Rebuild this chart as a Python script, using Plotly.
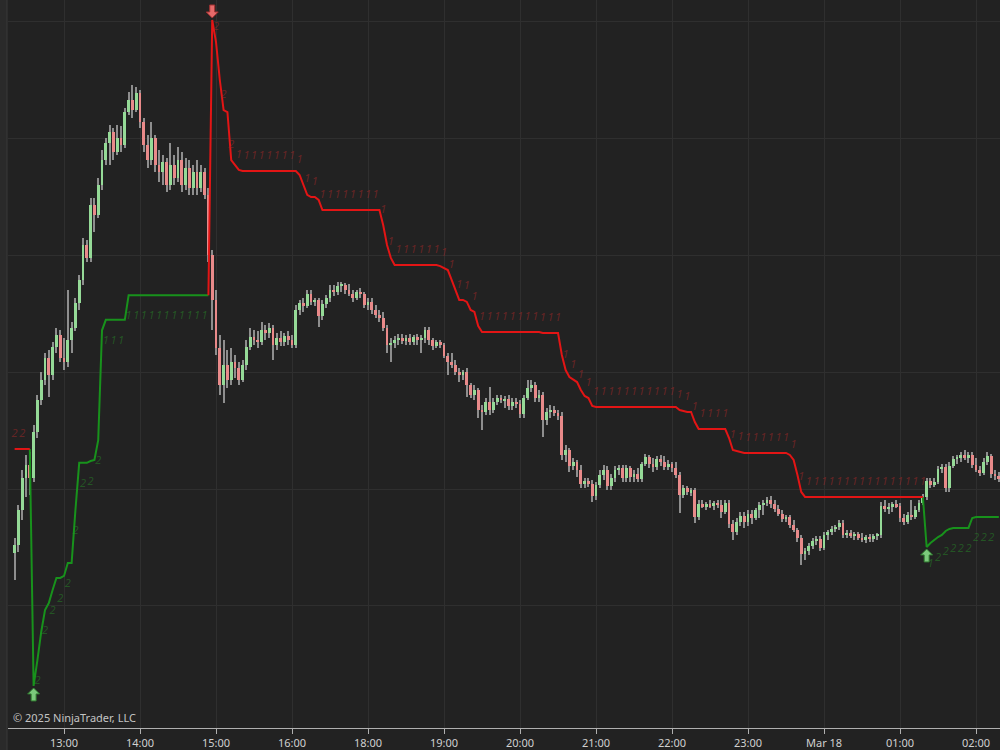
import plotly.graph_objects as go

# ---------------- data (3-minute bars, index 0 = 13:00, 17:00-18:00 session break removed) ----------------
bar_index = list(range(-13, 247))

opens = [
    5684.55, 5685.2, 5688.2, 5690.95, 5692.1, 5690.95, 5694.9, 5697.6, 5699.35, 5701.2,
    5699.8, 5702.2, 5703.2, 5701.2, 5700.9, 5702.8, 5703.8, 5705.9, 5707.9, 5710.9,
    5709.8, 5714.3, 5713.5, 5716.0, 5718.2, 5719.6, 5720.6, 5718.9, 5720.1, 5719.5,
    5722.3, 5723.3, 5722.5, 5723.9, 5721.4, 5719.5, 5718.2, 5720.1, 5717.75, 5717.15,
    5718.0, 5716.0, 5717.75, 5716.6, 5718.2, 5716.0, 5717.5, 5715.8, 5717.15, 5715.8,
    5717.15, 5715.2, 5710.05, 5706.2, 5702.1, 5698.9, 5700.6, 5699.35, 5700.9, 5700.4,
    5699.35, 5700.6, 5702.2, 5703.0, 5702.8, 5702.6, 5703.6, 5703.4, 5703.8, 5702.3,
    5702.9, 5702.6, 5703.1, 5702.8, 5702.3, 5705.3, 5705.9, 5705.7, 5706.7, 5706.0,
    5706.2, 5704.8, 5705.85, 5706.4, 5707.05, 5706.9, 5707.4, 5707.5, 5707.05, 5706.7,
    5706.4, 5706.9, 5706.7, 5705.8, 5706.0, 5705.3, 5704.9, 5704.65, 5703.8, 5702.3,
    5702.5, 5702.8, 5702.9, 5702.7, 5702.9, 5702.6, 5703.0, 5702.8, 5702.9, 5703.6,
    5702.8, 5702.25, 5702.6, 5702.3, 5701.4, 5700.9, 5700.6, 5700.0, 5699.8, 5700.0,
    5698.9, 5698.1, 5698.5, 5696.8, 5696.6, 5697.5, 5696.8, 5697.5, 5697.8, 5697.6,
    5697.7, 5697.1, 5697.5, 5697.3, 5696.4, 5697.8, 5698.7, 5698.9, 5697.8, 5698.1,
    5695.9, 5696.6, 5696.8, 5696.5, 5696.3, 5692.9, 5693.35, 5692.0, 5692.3, 5691.65,
    5690.45, 5690.7, 5690.45, 5689.4, 5690.35, 5691.2, 5691.65, 5690.3, 5690.95, 5691.65,
    5691.8, 5690.95, 5691.8, 5691.05, 5691.3, 5690.9, 5692.15, 5692.75, 5692.15, 5691.9,
    5692.6, 5692.3, 5691.9, 5692.15, 5691.8, 5691.2, 5689.5, 5690.1, 5689.75, 5689.9,
    5687.6, 5688.7, 5688.55, 5688.7, 5688.55, 5688.8, 5688.65, 5688.05, 5688.8, 5687.0,
    5686.3, 5687.2, 5687.7, 5687.2, 5687.9, 5687.55, 5688.2, 5688.65, 5688.8, 5689.1,
    5688.7, 5688.3, 5687.9, 5687.45, 5687.6, 5686.9, 5686.5, 5685.8, 5684.45, 5684.7,
    5685.15, 5685.55, 5685.75, 5684.95, 5686.1, 5686.3, 5686.6, 5686.75, 5687.1, 5686.1,
    5686.25, 5686.0, 5686.15, 5685.8, 5685.65, 5685.9, 5685.75, 5686.0, 5686.1, 5688.55,
    5688.3, 5688.5, 5688.7, 5688.55, 5687.55, 5687.2, 5687.8, 5687.6, 5688.2, 5688.8,
    5689.35, 5690.7, 5690.35, 5690.6, 5691.7, 5691.9, 5690.1, 5692.0, 5692.6, 5692.75,
    5692.9, 5692.75, 5692.9, 5692.1, 5691.65, 5691.4, 5692.3, 5692.85, 5691.3, 5691.1,
]

highs = [
    5685.8, 5688.65, 5691.65, 5692.9, 5693.2, 5695.5, 5698.1, 5700.0, 5701.7, 5701.9,
    5702.6, 5703.8, 5703.6, 5702.9, 5707.05, 5704.3, 5706.4, 5708.3, 5711.5, 5711.3,
    5714.9, 5714.9, 5716.6, 5719.0, 5720.1, 5721.2, 5720.9, 5721.2, 5721.1, 5722.6,
    5724.0, 5724.6, 5724.4, 5724.2, 5721.8, 5720.3, 5721.4, 5720.3, 5719.0, 5718.6,
    5718.35, 5719.6, 5718.6, 5719.3, 5718.9, 5718.35, 5718.2, 5717.75, 5718.2, 5717.75,
    5717.5, 5715.8, 5710.5, 5707.05, 5703.2, 5702.8, 5701.9, 5702.1, 5701.5, 5700.9,
    5701.1, 5702.8, 5703.8, 5703.6, 5703.5, 5704.3, 5704.05, 5704.2, 5704.05, 5703.4,
    5703.5, 5703.4, 5703.5, 5703.2, 5705.8, 5706.2, 5706.4, 5707.05, 5707.05, 5706.4,
    5706.4, 5706.2, 5706.6, 5707.5, 5707.5, 5707.7, 5707.7, 5707.65, 5707.6, 5707.05,
    5707.05, 5707.2, 5706.9, 5706.4, 5706.4, 5705.8, 5705.3, 5705.2, 5704.05, 5702.9,
    5703.1, 5703.3, 5703.3, 5703.2, 5703.3, 5703.2, 5703.3, 5703.2, 5703.9, 5703.9,
    5702.9, 5702.8, 5702.8, 5702.5, 5701.7, 5701.7, 5701.1, 5700.4, 5700.2, 5700.4,
    5699.1, 5698.9, 5698.7, 5697.2, 5697.8, 5698.75, 5697.8, 5698.1, 5698.1, 5698.0,
    5698.1, 5697.8, 5697.8, 5697.6, 5698.1, 5699.35, 5699.35, 5699.2, 5698.5, 5698.3,
    5696.95, 5697.2, 5697.1, 5696.8, 5696.6, 5693.8, 5693.5, 5692.7, 5692.5, 5692.1,
    5690.95, 5690.95, 5690.8, 5690.6, 5691.65, 5692.1, 5692.0, 5691.3, 5692.0, 5692.1,
    5692.1, 5692.1, 5692.0, 5691.65, 5691.8, 5692.3, 5693.0, 5692.9, 5692.7, 5692.85,
    5692.9, 5692.85, 5692.5, 5692.3, 5692.3, 5691.5, 5690.35, 5690.3, 5690.1, 5690.1,
    5689.1, 5689.1, 5688.9, 5689.1, 5689.0, 5689.1, 5689.1, 5689.1, 5689.1, 5687.35,
    5687.55, 5688.05, 5688.05, 5688.2, 5688.2, 5688.4, 5688.9, 5689.1, 5689.35, 5689.4,
    5689.1, 5688.65, 5688.2, 5687.8, 5687.8, 5687.35, 5686.7, 5686.1, 5684.95, 5685.4,
    5685.8, 5686.0, 5686.0, 5686.3, 5686.5, 5686.85, 5686.9, 5687.35, 5687.35, 5686.5,
    5686.5, 5686.3, 5686.3, 5686.25, 5686.1, 5686.15, 5686.15, 5686.25, 5688.9, 5689.1,
    5688.8, 5688.9, 5689.1, 5688.8, 5687.9, 5688.05, 5689.1, 5688.55, 5689.1, 5689.6,
    5690.95, 5690.95, 5690.95, 5692.0, 5692.15, 5692.15, 5692.3, 5692.85, 5692.9, 5693.2,
    5693.35, 5693.2, 5693.2, 5692.7, 5692.0, 5692.7, 5693.2, 5693.0, 5691.65, 5691.5,
]

lows = [
    5682.2, 5684.6, 5687.35, 5689.35, 5689.5, 5690.6, 5694.4, 5697.2, 5698.9, 5697.9,
    5699.35, 5701.7, 5700.9, 5700.2, 5700.5, 5701.7, 5703.5, 5705.3, 5707.5, 5709.45,
    5709.45, 5712.0, 5713.2, 5715.6, 5717.75, 5717.75, 5718.2, 5718.6, 5718.9, 5719.2,
    5722.0, 5721.8, 5722.3, 5720.9, 5718.9, 5717.5, 5717.75, 5717.15, 5716.3, 5716.0,
    5715.4, 5715.6, 5716.0, 5716.3, 5715.4, 5715.6, 5715.2, 5715.2, 5715.2, 5715.4,
    5714.8, 5709.45, 5703.6, 5701.5, 5698.1, 5697.4, 5698.7, 5698.9, 5699.5, 5698.9,
    5699.2, 5700.2, 5701.9, 5702.3, 5702.1, 5702.3, 5702.8, 5702.9, 5701.1, 5701.9,
    5702.25, 5702.25, 5702.3, 5702.1, 5702.1, 5704.9, 5705.2, 5705.5, 5705.8, 5705.7,
    5703.9, 5704.5, 5705.5, 5706.0, 5706.5, 5706.6, 5706.9, 5706.7, 5706.5, 5706.0,
    5706.2, 5706.4, 5705.5, 5705.3, 5705.0, 5704.65, 5704.3, 5703.5, 5701.7, 5700.9,
    5702.1, 5702.3, 5702.4, 5702.3, 5702.3, 5702.3, 5702.3, 5701.7, 5702.5, 5702.3,
    5701.9, 5702.1, 5702.1, 5701.2, 5699.8, 5700.4, 5699.8, 5699.2, 5699.35, 5697.9,
    5697.8, 5697.6, 5696.1, 5695.1, 5696.35, 5696.35, 5696.5, 5697.2, 5697.4, 5696.95,
    5696.8, 5696.8, 5696.95, 5696.1, 5696.1, 5697.6, 5698.3, 5697.5, 5697.5, 5694.5,
    5695.5, 5696.1, 5696.3, 5695.9, 5692.5, 5692.3, 5691.5, 5691.65, 5691.05, 5690.1,
    5690.1, 5690.2, 5688.9, 5689.1, 5690.1, 5690.8, 5689.9, 5689.9, 5690.6, 5691.2,
    5690.6, 5690.6, 5690.6, 5690.6, 5690.6, 5690.6, 5692.0, 5691.8, 5691.5, 5691.65,
    5692.0, 5691.65, 5691.65, 5691.5, 5690.95, 5687.95, 5689.25, 5689.5, 5689.4, 5687.1,
    5687.35, 5688.4, 5688.2, 5688.4, 5688.2, 5688.4, 5687.55, 5687.9, 5686.7, 5685.65,
    5686.1, 5686.85, 5686.7, 5686.85, 5687.0, 5687.35, 5687.55, 5687.8, 5688.55, 5688.4,
    5688.05, 5687.7, 5687.2, 5687.2, 5686.7, 5686.3, 5685.5, 5683.5, 5683.9, 5684.35,
    5684.9, 5685.2, 5684.7, 5684.8, 5685.65, 5686.1, 5686.3, 5686.5, 5685.8, 5685.8,
    5685.8, 5685.65, 5685.65, 5685.5, 5685.4, 5685.5, 5685.5, 5685.65, 5685.8, 5688.05,
    5687.9, 5688.05, 5688.4, 5687.2, 5686.9, 5687.0, 5687.35, 5687.45, 5688.05, 5688.65,
    5689.1, 5690.1, 5690.2, 5690.45, 5691.4, 5689.75, 5689.75, 5691.8, 5692.15, 5692.3,
    5692.5, 5692.25, 5691.8, 5691.5, 5691.1, 5691.2, 5692.1, 5690.95, 5690.8, 5690.6,
]

closes = [
    5685.2, 5688.2, 5690.95, 5692.1, 5690.95, 5694.9, 5697.6, 5699.35, 5701.2, 5699.8,
    5702.2, 5703.2, 5701.2, 5700.9, 5702.8, 5703.8, 5705.9, 5707.9, 5710.9, 5709.8,
    5714.3, 5713.5, 5716.0, 5718.2, 5719.6, 5720.6, 5718.9, 5720.1, 5719.5, 5722.3,
    5723.3, 5722.5, 5723.9, 5721.4, 5719.5, 5718.2, 5720.1, 5717.75, 5717.15, 5718.0,
    5716.0, 5717.75, 5716.6, 5718.2, 5716.0, 5717.5, 5715.8, 5717.15, 5715.8, 5717.15,
    5715.2, 5710.05, 5706.2, 5702.1, 5698.9, 5700.6, 5699.35, 5700.9, 5700.4, 5699.35,
    5700.6, 5702.2, 5703.0, 5702.8, 5702.6, 5703.6, 5703.4, 5703.8, 5702.3, 5702.9,
    5702.6, 5703.1, 5702.8, 5702.3, 5705.3, 5705.9, 5705.7, 5706.7, 5706.0, 5706.2,
    5704.8, 5705.85, 5706.4, 5707.05, 5706.9, 5707.4, 5707.5, 5707.05, 5706.7, 5706.4,
    5706.9, 5706.7, 5705.8, 5706.0, 5705.3, 5704.9, 5704.65, 5703.8, 5702.3, 5702.5,
    5702.8, 5702.9, 5702.7, 5702.9, 5702.6, 5703.0, 5702.8, 5702.9, 5703.6, 5702.8,
    5702.25, 5702.6, 5702.3, 5701.4, 5700.9, 5700.6, 5700.0, 5699.8, 5700.0, 5698.9,
    5698.1, 5698.5, 5696.8, 5696.6, 5697.5, 5696.8, 5697.5, 5697.8, 5697.6, 5697.7,
    5697.1, 5697.5, 5697.3, 5696.4, 5697.8, 5698.7, 5698.9, 5697.8, 5698.1, 5695.9,
    5696.6, 5696.8, 5696.5, 5696.3, 5692.9, 5693.35, 5692.0, 5692.3, 5691.65, 5690.45,
    5690.7, 5690.45, 5689.4, 5690.35, 5691.2, 5691.65, 5690.3, 5690.95, 5691.65, 5691.8,
    5690.95, 5691.8, 5691.05, 5691.3, 5690.9, 5692.15, 5692.75, 5692.15, 5691.9, 5692.6,
    5692.3, 5691.9, 5692.15, 5691.8, 5691.2, 5689.5, 5690.1, 5689.75, 5689.9, 5687.6,
    5688.7, 5688.55, 5688.7, 5688.55, 5688.8, 5688.65, 5688.05, 5688.8, 5687.0, 5686.3,
    5687.2, 5687.7, 5687.2, 5687.9, 5687.55, 5688.2, 5688.65, 5688.8, 5689.1, 5688.7,
    5688.3, 5687.9, 5687.45, 5687.6, 5686.9, 5686.5, 5685.8, 5684.45, 5684.7, 5685.15,
    5685.55, 5685.75, 5684.95, 5686.1, 5686.3, 5686.6, 5686.75, 5687.1, 5686.1, 5686.25,
    5686.0, 5686.15, 5685.8, 5685.65, 5685.9, 5685.75, 5686.0, 5686.1, 5688.55, 5688.3,
    5688.5, 5688.7, 5688.55, 5687.55, 5687.2, 5687.8, 5687.6, 5688.2, 5688.8, 5689.35,
    5690.7, 5690.35, 5690.6, 5691.7, 5691.9, 5690.1, 5692.0, 5692.6, 5692.75, 5692.9,
    5692.75, 5692.9, 5692.1, 5691.65, 5691.4, 5692.3, 5692.85, 5691.3, 5691.1, 5690.95,
]

# trailing stop level and its side (+1 long / green, -1 short / red)
stop_level = (
    [5693.44] * 5
    + [5673.15, 5675.37, 5677.77, 5679.65, 5680.25]
    + [5681.37, 5682.4, 5682.4, 5682.57, 5683.68, 5683.68, 5688.2, 5692.25, 5692.25, 5692.25]
    + [5692.41, 5692.5, 5694.2, 5703.6, 5704.5, 5704.5, 5704.5, 5704.5, 5704.5, 5704.5]
    + [5706.6] * 22
    + [5730.17, 5728.28, 5725.03, 5722.46, 5722.29, 5718.18, 5717.75, 5717.33]
    + [5717.24] * 15
    + [5716.9, 5716.0, 5715.2, 5715.01, 5715.01, 5714.76]
    + [5713.9] * 16
    + [5712.6, 5710.9, 5709.8]
    + [5709.19] * 12
    + [5709.1, 5708.93, 5708.76, 5707.91, 5707.05, 5706.2, 5706.2, 5706.03, 5705.34, 5705.17, 5703.97]
    + [5703.46] * 16
    + [5703.37] * 5
    + [5701.49, 5700.2, 5699.6, 5699.35, 5699.17, 5698.49, 5697.98, 5697.8, 5697.12]
    + [5697.03] * 22
    + [5696.78, 5696.69, 5696.61, 5696.61, 5695.75]
    + [5695.15] * 8
    + [5694.38, 5693.35, 5693.27, 5693.18]
    + [5693.1] * 12
    + [5692.93, 5692.5, 5691.21, 5689.76]
    + [5689.33] * 32
    + [5685.05, 5685.39, 5685.65, 5685.9, 5686.08, 5686.42, 5686.59]
    + [5686.68] * 5
    + [5687.53]
    + [5687.62] * 7
)
stop_dir = [-1] * 5 + [1] * 47 + [-1] * 188 + [1] * 20

# bar counter digits printed next to the stop (first bar, last bar, digit)
label_runs = [(-13, -10, "2"), (-7, 9, "2"), (11, 37, "1"), (40, 44, "2"),
              (46, 226, "1"), (228, 229, "1"), (230, 244, "2")]

# entry signals: (bar index, side)
signals = [(-8, 1), (39, -1), (227, 1)]

tick_index = [0, 20, 40, 60, 80, 100, 120, 140, 160, 180, 200, 220, 240]
tick_text = ["13:00", "14:00", "15:00", "16:00", "18:00", "19:00", "20:00",
             "21:00", "22:00", "23:00", "Mar 18", "01:00", "02:00"]
price_grid = [5680, 5690, 5700, 5710, 5720, 5730]

# ---------------- styling ----------------
BG = "#222222"
GRID = "#2f2f2f"
UP = "#95da97"
DOWN = "#e98a8a"
WICK = "#8e8e8e"
RED = "#e31515"
GREEN = "#18921c"

fig = go.Figure()

# wicks (thin bars, so that the bodies drawn afterwards sit on top of them)
fig.add_trace(go.Bar(x=bar_index, y=[h - l for h, l in zip(highs, lows)], base=lows, width=0.27,
                     marker=dict(color=WICK, line=dict(width=0)), showlegend=False, hoverinfo="skip"))

# bodies
ux, ub, uh, dx, db, dh = [], [], [], [], [], []
for i, o, c in zip(bar_index, opens, closes):
    hgt = max(abs(c - o), 0.09)
    if c >= o:
        ux.append(i); ub.append(o); uh.append(hgt)
    else:
        dx.append(i); db.append(c); dh.append(hgt)
fig.add_trace(go.Bar(x=ux, y=uh, base=ub, width=0.74, marker=dict(color=UP, line=dict(width=0)),
                     showlegend=False, hoverinfo="skip"))
fig.add_trace(go.Bar(x=dx, y=dh, base=db, width=0.74, marker=dict(color=DOWN, line=dict(width=0)),
                     showlegend=False, hoverinfo="skip"))

# trailing stop lines
n = len(bar_index)
green_y, red_y = [], []
for k in range(n):
    d = stop_dir[k]
    nxt = stop_dir[k + 1] if k + 1 < n else d
    green_y.append(stop_level[k] if (d == 1 or nxt == 1) else None)
    red_y.append(stop_level[k] if (d == -1 or nxt == -1) else None)
fig.add_trace(go.Scatter(x=bar_index, y=green_y, mode="lines", line=dict(color=GREEN, width=2),
                         connectgaps=False, showlegend=False, hoverinfo="skip"))
fig.add_trace(go.Scatter(x=bar_index, y=red_y, mode="lines", line=dict(color=RED, width=2),
                         connectgaps=False, showlegend=False, hoverinfo="skip"))

# counter digits
lab = {1: ([], [], []), -1: ([], [], [])}
for a, b, digit in label_runs:
    for i in range(a, b + 1, 2):
        k = i - bar_index[0]
        d = stop_dir[k]
        off = 1.3 if d == -1 else -1.8
        lab[d][0].append(i)
        lab[d][1].append(stop_level[k] + off)
        lab[d][2].append(digit)
fig.add_trace(go.Scatter(x=lab[-1][0], y=lab[-1][1], text=lab[-1][2], mode="text",
                         textfont=dict(family="Noto Sans", size=11, color="rgba(160,40,40,0.55)", style="italic"),
                         showlegend=False, hoverinfo="skip"))
fig.add_trace(go.Scatter(x=lab[1][0], y=lab[1][1], text=lab[1][2], mode="text",
                         textfont=dict(family="Noto Sans", size=11, color="rgba(40,150,40,0.45)", style="italic"),
                         showlegend=False, hoverinfo="skip"))

shapes = []
# signal arrows (pixel-sized paths anchored at the stop value)
up_path = "M 0 -2 L 6 -8 L 2.5 -8 L 2.5 -15 L -2.5 -15 L -2.5 -8 L -6 -8 Z"
down_path = "M 0 2 L 6 8 L 2.5 8 L 2.5 15 L -2.5 15 L -2.5 8 L -6 8 Z"
for i, side in signals:
    k = i - bar_index[0]
    shapes.append(dict(
        type="path", xref="x", yref="y", xsizemode="pixel", ysizemode="pixel",
        xanchor=i, yanchor=stop_level[k],
        path=up_path if side == 1 else down_path,
        fillcolor="#7cc97c" if side == 1 else "#e66a6a",
        line=dict(color="#2f7a2f" if side == 1 else "#a03030", width=1),
        layer="above"))

# left strip
shapes.append(dict(type="rect", xref="paper", yref="paper", x0=-8 / 992, x1=-1 / 992, y0=-22 / 728, y1=1,
                   fillcolor="#2a2a2a", line=dict(width=0), layer="below"))
shapes.append(dict(type="line", xref="paper", yref="paper", x0=-1 / 992, x1=-1 / 992, y0=-22 / 728, y1=1,
                   line=dict(color="#383838", width=1), layer="below"))

fig.update_layout(
    width=1000, height=750,
    margin=dict(l=8, r=0, t=0, b=22),
    paper_bgcolor=BG, plot_bgcolor=BG,
    barmode="overlay", bargap=0,
    showlegend=False,
    shapes=shapes,
    font=dict(family="Noto Sans", color="#d0d0d0", size=11),
    xaxis=dict(
        range=[-14.74, 246.3], tickmode="array", tickvals=tick_index, ticktext=tick_text,
        showgrid=True, gridcolor=GRID, gridwidth=1, zeroline=False,
        showline=True, linecolor="#b0b0b0", linewidth=1,
        ticks="outside", ticklen=5, tickcolor="#b0b0b0",
        tickfont=dict(family="Noto Sans", size=11, color="#d0d0d0"),
        fixedrange=True,
    ),
    yaxis=dict(
        range=[5669.55, 5731.88], tickmode="array", tickvals=price_grid,
        showticklabels=False, showgrid=True, gridcolor=GRID, gridwidth=1,
        zeroline=False, showline=False, ticks="", fixedrange=True,
    ),
    annotations=[dict(
        text="© 2025 NinjaTrader, LLC", xref="paper", yref="paper",
        x=3 / 992, y=11 / 728, xanchor="left", yanchor="middle", showarrow=False,
        font=dict(family="Noto Sans", size=11, color="#c4c4c4"))],
)

fig.write_html("out.html")
